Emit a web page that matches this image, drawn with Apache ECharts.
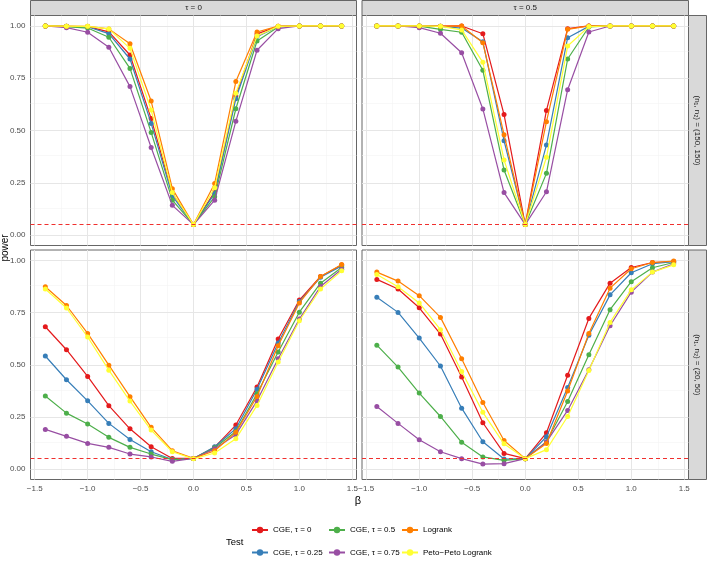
<!DOCTYPE html>
<html>
<head>
<meta charset="utf-8">
<script src="https://cdn.jsdelivr.net/npm/echarts@6/dist/echarts.min.js"></script>
<style>
html, body { margin: 0; padding: 0; background: #fff; }
#chart { width: 709px; height: 566px; }
</style>
</head>
<body>
<div id="chart"></div>
<script>
// x values (beta) shared by every panel
const betas = [-1.4, -1.2, -1.0, -0.8, -0.6, -0.4, -0.2, 0, 0.2, 0.4, 0.6, 0.8, 1.0, 1.2, 1.4];

const tests = ["CGE, τ = 0", "CGE, τ = 0.25", "CGE, τ = 0.5", "CGE, τ = 0.75", "Logrank", "Peto−Peto Logrank"];
const colors = ["#E41A1C", "#377EB8", "#4DAF4A", "#984EA3", "#FF7F00", "#FFFF33"];

// power per test (same order as tests), one array per panel
const tau0_n150 = [
  [1, 0.998, 0.997, 0.972, 0.861, 0.557, 0.200, 0.05, 0.207, 0.665, 0.962, 0.998, 1, 1, 1],
  [1, 0.998, 0.996, 0.963, 0.842, 0.534, 0.187, 0.05, 0.199, 0.652, 0.949, 0.997, 1, 1, 1],
  [1, 0.997, 0.990, 0.946, 0.797, 0.491, 0.167, 0.05, 0.183, 0.604, 0.928, 0.995, 1, 1, 1],
  [1, 0.992, 0.970, 0.898, 0.710, 0.419, 0.142, 0.05, 0.167, 0.544, 0.884, 0.987, 1, 1, 1],
  [1, 0.999, 0.998, 0.986, 0.915, 0.641, 0.222, 0.05, 0.247, 0.734, 0.971, 0.999, 1, 1, 1],
  [1, 0.999, 0.998, 0.986, 0.893, 0.598, 0.203, 0.05, 0.226, 0.678, 0.952, 0.998, 1, 1, 1]
];
const tau05_n150 = [
  [1, 1, 1, 0.999, 1.000, 0.963, 0.576, 0.05, 0.596, 0.987, 1, 1, 1, 1, 1],
  [1, 1, 1, 0.998, 0.990, 0.925, 0.451, 0.05, 0.431, 0.944, 0.998, 1, 1, 1, 1],
  [1, 1, 0.999, 0.984, 0.970, 0.788, 0.311, 0.05, 0.295, 0.842, 0.995, 1, 1, 1, 1],
  [1, 1, 0.992, 0.965, 0.872, 0.603, 0.203, 0.05, 0.207, 0.695, 0.971, 1, 1, 1, 1],
  [1, 1, 1, 0.999, 1.000, 0.920, 0.480, 0.05, 0.542, 0.984, 1, 1, 1, 1, 1],
  [1, 1, 1, 0.998, 0.981, 0.826, 0.359, 0.05, 0.372, 0.904, 0.997, 1, 1, 1, 1]
];
const tau0_n20 = [
  [0.682, 0.572, 0.444, 0.304, 0.193, 0.107, 0.051, 0.051, 0.105, 0.211, 0.393, 0.623, 0.810, 0.923, 0.978],
  [0.542, 0.428, 0.327, 0.219, 0.142, 0.083, 0.046, 0.051, 0.107, 0.193, 0.383, 0.604, 0.803, 0.919, 0.973],
  [0.350, 0.268, 0.216, 0.152, 0.104, 0.072, 0.045, 0.051, 0.102, 0.180, 0.361, 0.561, 0.752, 0.891, 0.966],
  [0.190, 0.157, 0.123, 0.104, 0.072, 0.058, 0.037, 0.051, 0.097, 0.165, 0.327, 0.529, 0.719, 0.875, 0.958],
  [0.874, 0.784, 0.650, 0.498, 0.347, 0.200, 0.088, 0.051, 0.088, 0.176, 0.348, 0.591, 0.796, 0.923, 0.981],
  [0.863, 0.772, 0.633, 0.474, 0.326, 0.187, 0.083, 0.049, 0.077, 0.145, 0.305, 0.513, 0.711, 0.863, 0.950]
];
const tau05_n20 = [
  [0.909, 0.863, 0.773, 0.647, 0.441, 0.222, 0.075, 0.05, 0.174, 0.450, 0.722, 0.891, 0.966, 0.990, 0.995],
  [0.823, 0.751, 0.628, 0.494, 0.292, 0.131, 0.048, 0.05, 0.155, 0.391, 0.641, 0.835, 0.941, 0.984, 0.994],
  [0.594, 0.489, 0.364, 0.252, 0.128, 0.058, 0.042, 0.05, 0.131, 0.324, 0.548, 0.764, 0.898, 0.965, 0.990],
  [0.300, 0.219, 0.141, 0.083, 0.050, 0.024, 0.026, 0.05, 0.130, 0.281, 0.476, 0.687, 0.848, 0.944, 0.984],
  [0.944, 0.901, 0.831, 0.727, 0.529, 0.319, 0.137, 0.05, 0.123, 0.374, 0.650, 0.867, 0.960, 0.990, 0.997],
  [0.933, 0.874, 0.796, 0.668, 0.468, 0.272, 0.121, 0.05, 0.093, 0.252, 0.473, 0.703, 0.859, 0.944, 0.979]
];

// axis ticks / gridlines
const xMajor = [-1.5, -1.0, -0.5, 0, 0.5, 1.0, 1.5];
const xMinor = [-1.25, -0.75, -0.25, 0.25, 0.75, 1.25];
const yMajor = [0, 0.25, 0.5, 0.75, 1.0];
const yMinor = [0.125, 0.375, 0.625, 0.875];
const alpha = 0.05;

const colTitles = ["τ = 0", "τ = 0.5"];
const rowTitles = ["(n₁, n₂) = (150, 150)", "(n₁, n₂) = (20, 50)"];

// panel layout (px)
const colX = [30.5, 362];
const colW = [326, 326.5];
const rowY = [15.5, 250];
const rowH = [230, 229.5];

const FONT = "Liberation Sans";

const panels = [
  { vals: tau0_n150, row: 0, col: 0 },
  { vals: tau05_n150, row: 0, col: 1 },
  { vals: tau0_n20, row: 1, col: 0 },
  { vals: tau05_n20, row: 1, col: 1 }
];

const fmtX = v => (v < 0 ? "\u2212" + Math.abs(v).toFixed(1) : v.toFixed(1));

const grids = [], xAxes = [], yAxes = [], series = [];

panels.forEach((p, i) => {
  grids.push({
    left: colX[p.col], top: rowY[p.row], width: colW[p.col], height: rowH[p.row],
    show: true, backgroundColor: "#fff", borderColor: "#666", borderWidth: 1
  });
  const showX = p.row === 1;
  const showY = p.col === 0;
  xAxes.push({
    type: "value", gridIndex: i, min: -1.54, max: 1.54,
    axisLine: { show: false },
    splitLine: { show: false },
    axisTick: { show: showX, customValues: xMajor, length: 3, lineStyle: { color: "#333" } },
    axisLabel: { show: showX, customValues: xMajor, formatter: fmtX, fontSize: 8, color: "#4D4D4D", margin: 5, fontFamily: FONT }
  });
  yAxes.push({
    type: "value", gridIndex: i, min: -0.05, max: 1.05,
    axisLine: { show: false },
    splitLine: { show: false },
    axisTick: { show: showY, customValues: yMajor, length: 3, lineStyle: { color: "#333" } },
    axisLabel: { show: showY, customValues: yMajor, formatter: v => v.toFixed(2), fontSize: 8, color: "#4D4D4D", margin: 5, fontFamily: FONT }
  });

  // background gridlines
  const minorStyle = { color: "#F3F3F3", width: 0.6, type: "solid" };
  const majorStyle = { color: "#E6E6E6", width: 1, type: "solid" };
  const gridData = []
    .concat(xMinor.map(v => ({ xAxis: v, lineStyle: minorStyle })))
    .concat(yMinor.map(v => ({ yAxis: v, lineStyle: minorStyle })))
    .concat(xMajor.map(v => ({ xAxis: v, lineStyle: majorStyle })))
    .concat(yMajor.map(v => ({ yAxis: v, lineStyle: majorStyle })));
  series.push({
    type: "line", xAxisIndex: i, yAxisIndex: i, data: [], silent: true,
    markLine: {
      z: 1, silent: true, symbol: ["none", "none"], label: { show: false },
      animation: false, lineStyle: { type: "solid" }, data: gridData
    }
  });

  p.vals.forEach((vals, j) => {
    series.push({
      name: tests[j], type: "line", xAxisIndex: i, yAxisIndex: i,
      data: betas.map((b, k) => [b, vals[k]]),
      symbol: "circle", symbolSize: 5, showSymbol: true,
      lineStyle: { width: 1.2, color: colors[j] },
      itemStyle: { color: colors[j] },
      z: 2 + j * 0.01
    });
  });

  // reference level
  series.push({
    type: "line", xAxisIndex: i, yAxisIndex: i, data: [], silent: true,
    markLine: {
      z: 5, silent: true, symbol: ["none", "none"], label: { show: false },
      animation: false,
      lineStyle: { color: "#F0302E", type: [4, 3], width: 1.1 },
      data: [{ yAxis: alpha }]
    }
  });
});

// facet strips and titles
const graphics = [];
colTitles.forEach((t, c) => {
  graphics.push({
    type: "rect", silent: true,
    shape: { x: colX[c], y: 0.5, width: colW[c], height: 15 },
    style: { fill: "#D9D9D9", stroke: "#666", lineWidth: 1 }
  });
  graphics.push({
    type: "text", silent: true,
    x: colX[c] + colW[c] / 2, y: 8,
    style: { text: t, fill: "#1A1A1A", fontSize: 8, fontFamily: FONT, align: "center", verticalAlign: "middle" }
  });
});
rowTitles.forEach((t, r) => {
  graphics.push({
    type: "rect", silent: true,
    shape: { x: 688.5, y: rowY[r], width: 18, height: rowH[r] },
    style: { fill: "#D9D9D9", stroke: "#666", lineWidth: 1 }
  });
  graphics.push({
    type: "text", silent: true,
    x: 697.5, y: rowY[r] + rowH[r] / 2, rotation: -Math.PI / 2,
    style: { text: t, fill: "#1A1A1A", fontSize: 8, fontFamily: FONT, align: "center", verticalAlign: "middle" }
  });
});
graphics.push({
  type: "text", silent: true, x: 5, y: 248, rotation: Math.PI / 2,
  style: { text: "power", fill: "#000", fontSize: 10, fontFamily: FONT, align: "center", verticalAlign: "middle" }
});
graphics.push({
  type: "text", silent: true, x: 358, y: 501,
  style: { text: "β", fill: "#000", fontSize: 11, fontFamily: FONT, align: "center", verticalAlign: "middle" }
});
graphics.push({
  type: "text", silent: true, x: 226, y: 542,
  style: { text: "Test", fill: "#000", fontSize: 9.5, fontFamily: FONT, align: "left", verticalAlign: "middle" }
});

const legendBase = {
  orient: "vertical", top: 526, itemWidth: 16, itemHeight: 8, itemGap: 14.5,
  textStyle: { fontSize: 8, color: "#000", fontFamily: FONT },
  selectedMode: false, padding: 0
};
const legends = [
  Object.assign({}, legendBase, { left: 251, data: [tests[0], tests[1]] }),
  Object.assign({}, legendBase, { left: 328, data: [tests[2], tests[3]] }),
  Object.assign({}, legendBase, { left: 401, data: [tests[4], tests[5]] })
];

const chart = echarts.init(document.getElementById("chart"));
chart.setOption({
  animation: false,
  backgroundColor: "#fff",
  grid: grids,
  xAxis: xAxes,
  yAxis: yAxes,
  legend: legends,
  series: series,
  graphic: graphics
});
</script>
</body>
</html>
